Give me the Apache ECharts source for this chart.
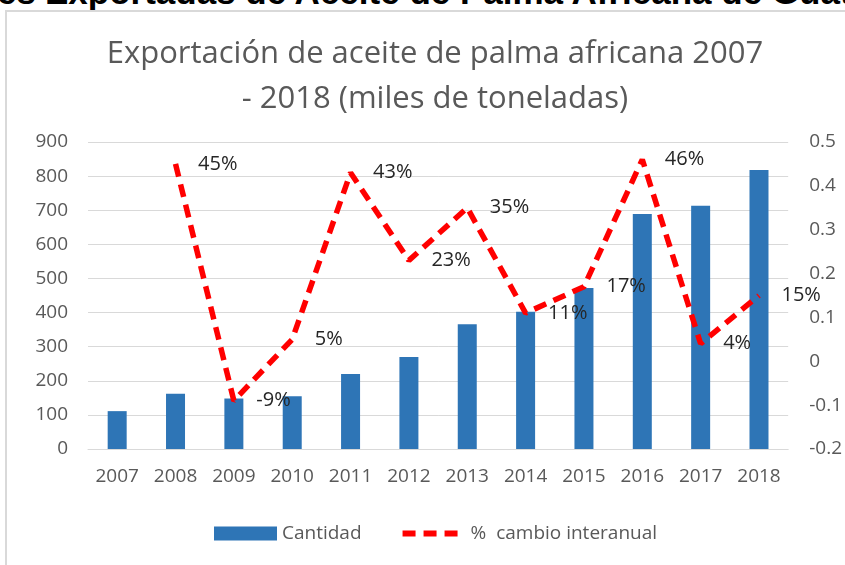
<!DOCTYPE html>
<html>
<head>
<meta charset="utf-8">
<script src="https://cdn.jsdelivr.net/npm/echarts@6/dist/echarts.min.js"></script>
<style>
  html, body { margin: 0; padding: 0; background: #fff; overflow: hidden; }
  #page { position: relative; width: 845px; height: 565px; overflow: hidden; }
  #cut { position: absolute; top: -28px; left: 45px; white-space: nowrap;
         font: bold 35px "Liberation Sans", Arial, sans-serif; color: #000; }
  #cut span { position: absolute; right: 100%; padding-right: 9px; }
  #box { position: absolute; left: 5px; top: 10px; width: 860px; height: 580px;
         border: 2px solid #d9d9d9; box-sizing: border-box; }
  #chart { position: absolute; left: 0; top: 0; width: 845px; height: 565px; }
</style>
</head>
<body>
<div id="page">
  <div id="cut"><span>Cantidades</span>Exportadas de Aceite de Palma Africana de Guatemala</div>
  <div id="box"></div>
  <div id="chart"></div>
</div>
<script>
// years on the x axis
const years = ['2007','2008','2009','2010','2011','2012','2013','2014','2015','2016','2017','2018'];
// export quantity, thousands of tonnes
const cantidad = [111, 162, 148, 155, 220, 270, 366, 402, 472, 689, 713, 818];
// year-over-year change (first year has none)
const cambio = [null, 0.45, -0.09, 0.05, 0.43, 0.23, 0.35, 0.11, 0.17, 0.46, 0.04, 0.15];

const font = '"Open Sans", "Noto Sans", sans-serif';
const grey = '#595959';

const myChart = echarts.init(document.getElementById('chart'), null, { width: 845, height: 565 });

const option = {
  backgroundColor: 'transparent',
  animation: false,
  title: {
    text: 'Exportación de aceite de palma africana 2007\n- 2018 (miles de toneladas)',
    left: 430,
    textAlign: 'center',
    top: 27,
    textStyle: { fontFamily: font, fontSize: 31, fontWeight: 'normal', color: grey, lineHeight: 45 }
  },
  legend: {
    bottom: 17,
    left: 209,
    itemGap: 38,
    itemWidth: 63,
    itemHeight: 14,
    textStyle: { fontFamily: font, fontSize: 19, color: grey },
    data: [
      { name: 'Cantidad', icon: 'rect' },
      {
        name: '%  cambio interanual',
        itemStyle: { color: 'transparent' },
        lineStyle: { color: '#ff0000', width: 6, type: [13, 8] }
      }
    ]
  },
  grid: { left: 88, right: 54, top: 142, bottom: 116 },
  xAxis: {
    type: 'category',
    data: years,
    axisTick: { show: false },
    axisLine: { lineStyle: { color: '#d9d9d9', width: 1 } },
    axisLabel: { fontFamily: font, fontSize: 19, color: grey, margin: 18 }
  },
  yAxis: [
    {
      type: 'value',
      min: 0, max: 900, interval: 100,
      axisLine: { show: false },
      axisTick: { show: false },
      splitLine: { lineStyle: { color: '#d9d9d9', width: 1 } },
      axisLabel: { fontFamily: font, fontSize: 19, color: grey, margin: 20 }
    },
    {
      type: 'value',
      min: -0.2, max: 0.5, interval: 0.1,
      axisLine: { show: false },
      axisTick: { show: false },
      splitLine: { show: false },
      axisLabel: {
        fontFamily: font, fontSize: 19, color: grey, margin: 21,
        formatter: v => String(Math.round(v * 10) / 10)
      }
    }
  ],
  series: [
    {
      name: 'Cantidad',
      type: 'bar',
      data: cantidad,
      barWidth: 19,
      itemStyle: { color: '#2e75b6' }
    },
    {
      name: '%  cambio interanual',
      type: 'line',
      yAxisIndex: 1,
      data: cambio,
      symbol: 'circle',
      symbolSize: 1,
      lineStyle: { color: '#ff0000', width: 5.5, type: [13, 8] },
      itemStyle: { color: 'transparent', borderWidth: 0 },
      label: {
        show: true,
        position: 'right',
        distance: 22,
        fontFamily: font,
        fontSize: 20,
        color: '#262626',
        formatter: p => Math.round(p.value * 100) + '%'
      }
    }
  ]
};

myChart.setOption(option);
</script>
</body>
</html>
